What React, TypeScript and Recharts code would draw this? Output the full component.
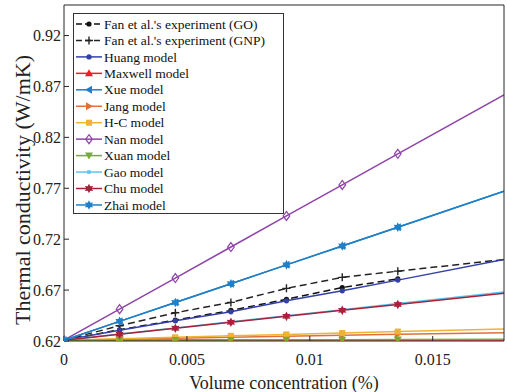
import { LineChart, Line, XAxis, YAxis, Legend, Label } from 'recharts'

// volume concentration (%) at each measured point; last entry is the right edge of the plot
const volumeFraction = [0, 0.00226, 0.00453, 0.00679, 0.00905, 0.01132, 0.01358, 0.0179]

const goExperiment = [0.6208, 0.631, 0.6405, 0.650, 0.661, 0.6725, 0.681, null]
const gnpExperiment = [0.6208, 0.635, 0.6477, 0.6579, 0.6717, 0.6825, 0.6886, 0.700]
const huangModel = [0.6208, 0.6305, 0.6398, 0.6487, 0.6595, 0.6693, 0.6798, 0.7001]
const maxwellModel = [0.6208, 0.6208, 0.6209, 0.6209, 0.621, 0.621, 0.621, 0.6211]
const xueModel = [0.6208, 0.6393, 0.6578, 0.6763, 0.6948, 0.7133, 0.7318, 0.767]
const jangModel = [0.6208, 0.6218, 0.6227, 0.6237, 0.6246, 0.6256, 0.6266, 0.6282]
const hcModel = [0.6208, 0.6222, 0.6236, 0.6251, 0.6265, 0.6279, 0.6293, 0.6318]
const nanModel = [0.6208, 0.6513, 0.6818, 0.7123, 0.7428, 0.7733, 0.8038, 0.8618]
const xuanModel = [0.6208, 0.6209, 0.621, 0.6211, 0.6212, 0.6213, 0.6214, 0.6217]
const gaoModel = [0.6208, 0.6268, 0.6328, 0.6388, 0.6448, 0.6508, 0.6568, 0.6682]
const chuModel = [0.6208, 0.6267, 0.6325, 0.6384, 0.6442, 0.6501, 0.6559, 0.667]
const zhaiModel = [0.6208, 0.6393, 0.6578, 0.6763, 0.6948, 0.7133, 0.7318, 0.767]

const xTicks = [0, 0.005, 0.01, 0.015]
const yTicks = [0.62, 0.67, 0.72, 0.77, 0.82, 0.87, 0.92]

type MarkerKind =
  | 'dot' | 'plus' | 'triUp' | 'triDown' | 'triLeft' | 'triRight'
  | 'square' | 'smallSquare' | 'diamond' | 'hexagram'

const series: { key: string; name: string; values: (number | null)[]; color: string; marker: MarkerKind; dashed?: boolean }[] = [
  { key: 'go', name: "Fan et al.'s experiment (GO)", values: goExperiment, color: '#111111', marker: 'dot', dashed: true },
  { key: 'gnp', name: "Fan et al.'s experiment (GNP)", values: gnpExperiment, color: '#222222', marker: 'plus', dashed: true },
  { key: 'huang', name: 'Huang model', values: huangModel, color: '#3340a8', marker: 'dot' },
  { key: 'maxwell', name: 'Maxwell model', values: maxwellModel, color: '#ff1a1a', marker: 'triUp' },
  { key: 'xue', name: 'Xue model', values: xueModel, color: '#1f7fc4', marker: 'triLeft' },
  { key: 'jang', name: 'Jang model', values: jangModel, color: '#e0703a', marker: 'triRight' },
  { key: 'hc', name: 'H-C model', values: hcModel, color: '#f0b331', marker: 'square' },
  { key: 'nan', name: 'Nan model', values: nanModel, color: '#8e44a8', marker: 'diamond' },
  { key: 'xuan', name: 'Xuan model', values: xuanModel, color: '#77ac30', marker: 'triDown' },
  { key: 'gao', name: 'Gao model', values: gaoModel, color: '#5ec4f0', marker: 'smallSquare' },
  { key: 'chu', name: 'Chu model', values: chuModel, color: '#a8203a', marker: 'hexagram' },
  { key: 'zhai', name: 'Zhai model', values: zhaiModel, color: '#1f80c8', marker: 'hexagram' },
]

const rows = volumeFraction.map((x, i) => {
  const row: Record<string, number | null> = { x }
  series.forEach((s) => { row[s.key] = s.values[i] })
  return row
})

const FONT = "'Liberation Serif', 'Times New Roman', serif"
const AXIS = '#262626'

function starPath(x: number, y: number, ro: number, ri: number) {
  let d = ''
  for (let i = 0; i < 12; i++) {
    const a = (Math.PI / 6) * i - Math.PI / 2
    const r = i % 2 === 0 ? ro : ri
    d += (i === 0 ? 'M' : 'L') + (x + r * Math.cos(a)).toFixed(2) + ',' + (y + r * Math.sin(a)).toFixed(2)
  }
  return d + 'Z'
}

function Marker({ kind, x, y, color }: { kind: MarkerKind; x: number; y: number; color: string }) {
  switch (kind) {
    case 'dot':
      return <circle cx={x} cy={y} r={2.6} fill={color} />
    case 'plus':
      return <path d={`M${x - 4},${y}H${x + 4}M${x},${y - 4}V${y + 4}`} stroke={color} strokeWidth={1.4} />
    case 'triUp':
      return <polygon points={`${x},${y - 4} ${x - 4},${y + 3} ${x + 4},${y + 3}`} fill={color} />
    case 'triDown':
      return <polygon points={`${x},${y + 4} ${x - 4},${y - 3} ${x + 4},${y - 3}`} fill={color} />
    case 'triLeft':
      return <polygon points={`${x - 4},${y} ${x + 3},${y - 4} ${x + 3},${y + 4}`} fill={color} />
    case 'triRight':
      return <polygon points={`${x + 4},${y} ${x - 3},${y - 4} ${x - 3},${y + 4}`} fill={color} />
    case 'square':
      return <rect x={x - 3} y={y - 3} width={6} height={6} fill={color} />
    case 'smallSquare':
      return <rect x={x - 1.8} y={y - 1.8} width={3.6} height={3.6} fill={color} />
    case 'diamond':
      return <polygon points={`${x},${y - 4.5} ${x + 3.3},${y} ${x},${y + 4.5} ${x - 3.3},${y}`} fill="none" stroke={color} strokeWidth={1.2} />
    case 'hexagram':
      return <path d={starPath(x, y, 4.8, 2.6)} fill={color} />
  }
  return null
}

function LegendBox() {
  return (
    <svg width={212} height={202} style={{ display: 'block' }}>
      <rect x={0.5} y={0.5} width={210} height={200} fill="#fff" stroke="#333" strokeWidth={1} />
      {series.map((s, i) => {
        const cy = 11 + i * 16.45
        return (
          <g key={s.key}>
            <line x1={3} x2={29} y1={cy} y2={cy} stroke={s.color} strokeWidth={1.5} strokeDasharray={s.dashed ? '6 3' : undefined} />
            <Marker kind={s.marker} x={16} y={cy} color={s.color} />
            <text x={31} y={cy + 4.6} fontSize={13.5} fontFamily={FONT} fill="#111">{s.name}</text>
          </g>
        )
      })}
    </svg>
  )
}

export default function App() {
  return (
    <div style={{ position: 'absolute', left: 0, top: 0, width: 507, height: 392, background: '#fff' }}>
      <LineChart width={507} height={392} data={rows} margin={{ top: 4, right: 2, bottom: 0, left: 0 }} style={{ fontFamily: FONT }}>
        <XAxis
          dataKey="x"
          type="number"
          domain={[0, 0.0179]}
          allowDataOverflow
          ticks={xTicks}
          tickFormatter={(v: number) => String(v)}
          height={51}
          tickSize={-5}
          tickMargin={18}
          stroke={AXIS}
          tick={{ fontSize: 16, fill: '#222', fontFamily: FONT }}
        >
          <Label
            content={({ viewBox }: any) => (
              <text x={viewBox.x + viewBox.width / 2} y={viewBox.y + viewBox.height - 3} textAnchor="middle" fontSize={18} fontFamily={FONT} fill="#222">
                Volume concentration (%)
              </text>
            )}
          />
        </XAxis>
        <XAxis xAxisId="top" orientation="top" type="number" domain={[0, 0.0179]} allowDataOverflow ticks={xTicks} tick={false} height={1} tickSize={-5} stroke={AXIS} />
        <YAxis
          type="number"
          domain={[0.62, 0.95]}
          allowDataOverflow
          ticks={yTicks}
          tickFormatter={(v: number) => v.toFixed(2)}
          width={64}
          tickSize={-5}
          tickMargin={8}
          stroke={AXIS}
          tick={{ fontSize: 16, fill: '#222', fontFamily: FONT }}
        >
          <Label
            content={({ viewBox }: any) => {
              const cx = viewBox.x + 22
              const cy = viewBox.y + viewBox.height / 2 + 17
              return (
                <text x={cx} y={cy} transform={`rotate(-90, ${cx}, ${cy})`} textAnchor="middle" dominantBaseline="central" fontSize={22} fontFamily={FONT} fill="#222">
                  Thermal conductivity (W/mK)
                </text>
              )
            }}
          />
        </YAxis>
        <YAxis yAxisId="right" orientation="right" type="number" domain={[0.62, 0.95]} allowDataOverflow ticks={yTicks} tick={false} width={1} tickSize={-5} stroke={AXIS} />
        <Legend
          layout="vertical"
          align="center"
          verticalAlign="middle"
          wrapperStyle={{ left: 73, top: 13, width: 212, height: 202 }}
          content={() => <LegendBox />}
        />
        {series.map((s) => (
          <Line
            key={s.key}
            dataKey={s.key}
            name={s.name}
            type="linear"
            stroke={s.color}
            strokeWidth={1.5}
            strokeDasharray={s.dashed ? '7 4' : undefined}
            isAnimationActive={false}
            activeDot={false}
            dot={(p: any) =>
              p.index < 7 && p.cy != null ? (
                <g key={`${s.key}-${p.index}`}>
                  <Marker kind={s.marker} x={p.cx} y={p.cy} color={s.color} />
                </g>
              ) : (
                <g key={`${s.key}-${p.index}`} />
              )
            }
          />
        ))}
      </LineChart>
    </div>
  )
}
